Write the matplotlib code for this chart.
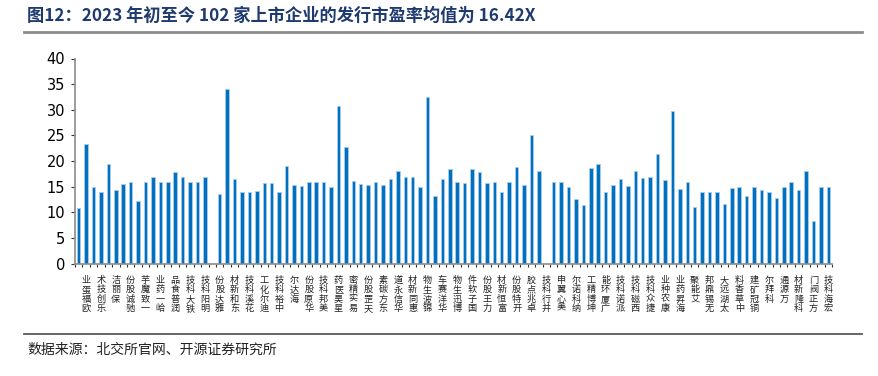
import matplotlib
matplotlib.use("Agg")
import matplotlib.pyplot as plt
import numpy as np
from matplotlib.lines import Line2D

plt.rcParams['font.family'] = ['Noto Sans CJK SC', 'DejaVu Sans']

title = "图12：2023 年初至今 102 家上市企业的发行市盈率均值为 16.42X"
source = "数据来源：北交所官网、开源证券研究所"

# names shown on the axis (every other company is labelled)
labels = ["欧福蛋业", "乐创技术", "保丽洁", "驰诚股份", "一致魔芋", "峆一药业", "润普食品",
          "铁大科技", "明阳科技", "雅达股份", "东和新材", "花溪科技", "迪尔化工", "中裕科技",
          "海达尔", "华原股份", "美邦科技", "星昊医药", "易实精密", "天罡股份", "东方碳素",
          "华信永道", "惠同新材", "锦波生物", "华洋赛车", "博迅生物", "国子软件", "力王股份",
          "富恒新材", "开特股份", "卓兆点胶", "并行科技", "美心翼申", "纳科诺尔", "坤博精工",
          "广厦环能", "派诺科技", "西磁科技", "捷众科技", "康农种业", "海昇药业", "艾能聚",
          "无锡鼎邦", "太湖远大", "中草香料", "铜冠矿建", "科拜尔", "万源通", "科隆新材",
          "方正阀门", "宏海科技"]

# issue P/E of all 102 companies (nan = no bar)
pe = [10.9, 23.3, 15.0, 13.9, 19.4, 14.3, 15.5, 15.9, 12.2, 15.9,
      16.9, 15.9, 15.9, 17.8, 16.9, 15.9, 15.9, 16.9, np.nan, 13.6,
      34.0, 16.5, 13.9, 13.9, 14.1, 15.8, 15.8, 13.9, 19.1, 15.4,
      15.2, 15.9, 15.9, 15.9, 15.0, 30.7, 22.8, 16.1, 15.5, 15.4,
      15.9, 15.4, 16.5, 18.0, 16.9, 16.9, 14.9, 32.5, 13.2, 16.5,
      18.4, 16.0, 15.8, 18.4, 17.9, 15.8, 16.0, 13.9, 16.0, 18.8,
      15.3, 25.1, 18.0, np.nan, 16.0, 15.9, 15.0, 12.5, 11.4, 18.6,
      19.5, 13.9, 15.3, 16.5, 15.1, 18.0, 16.7, 16.9, 21.4, 16.3,
      29.7, 14.5, 16.0, 11.0, 13.9, 13.9, 13.9, 11.7, 14.8, 14.9,
      13.1, 14.9, 14.3, 13.9, 12.8, 14.9, 15.9, 14.4, 18.0, 8.3,
      14.9, 14.9]
yticks = [0, 5, 10, 15, 20, 25, 30, 35, 40]

W, H = 879, 376
fig = plt.figure(figsize=(W / 100, H / 100), dpi=100)

ax = fig.add_axes([75 / W, (H - 263.5) / H, (832 - 75) / W, (263.5 - 58.5) / H])
x = np.arange(len(pe))
ax.bar(x, pe, width=0.47, color='#0070C0', edgecolor='#A9CDEB', linewidth=0.6)

ax.set_xlim(-0.5, len(pe) - 0.5)
ax.set_ylim(0, 40)
ax.set_yticks(yticks)
ax.set_yticklabels([str(v) for v in yticks], fontsize=10.5, family=['DejaVu Sans'])
ax.tick_params(axis='y', direction='out', length=3, width=0.8, color='#333333', pad=4)

pos = np.arange(1, len(pe), 2)
ax.set_xticks(pos)
ax.set_xticklabels(['\n'.join(n[::-1]) for n in labels], fontsize=6.6,
                   linespacing=1.05, va='top', ha='center', color='#222222')
ax.tick_params(axis='x', which='major', length=0, pad=9)
ax.set_xticks(np.arange(-0.5, len(pe), 1), minor=True)
ax.tick_params(axis='x', which='minor', direction='out', length=2.5, width=0.8, color='#333333')

for s in ['top', 'right']:
    ax.spines[s].set_visible(False)
for s in ['left', 'bottom']:
    ax.spines[s].set_color('#8C8C8C')
    ax.spines[s].set_linewidth(1.2)

fig.text(27 / W, 1 - 16 / H, title, fontsize=12.4, fontweight='bold', color='#1F3A6E',
         va='center', ha='left')
fig.add_artist(Line2D([24 / W, 862 / W], [1 - 32 / H, 1 - 32 / H], color='#8C8C8C', lw=2))
fig.add_artist(Line2D([24 / W, 862 / W], [1 - 334 / H, 1 - 334 / H], color='#595959', lw=1.3))
fig.text(27 / W, 1 - 350 / H, source, fontsize=10, color='#222222', va='center', ha='left')

fig.savefig('out.png', dpi=100)
